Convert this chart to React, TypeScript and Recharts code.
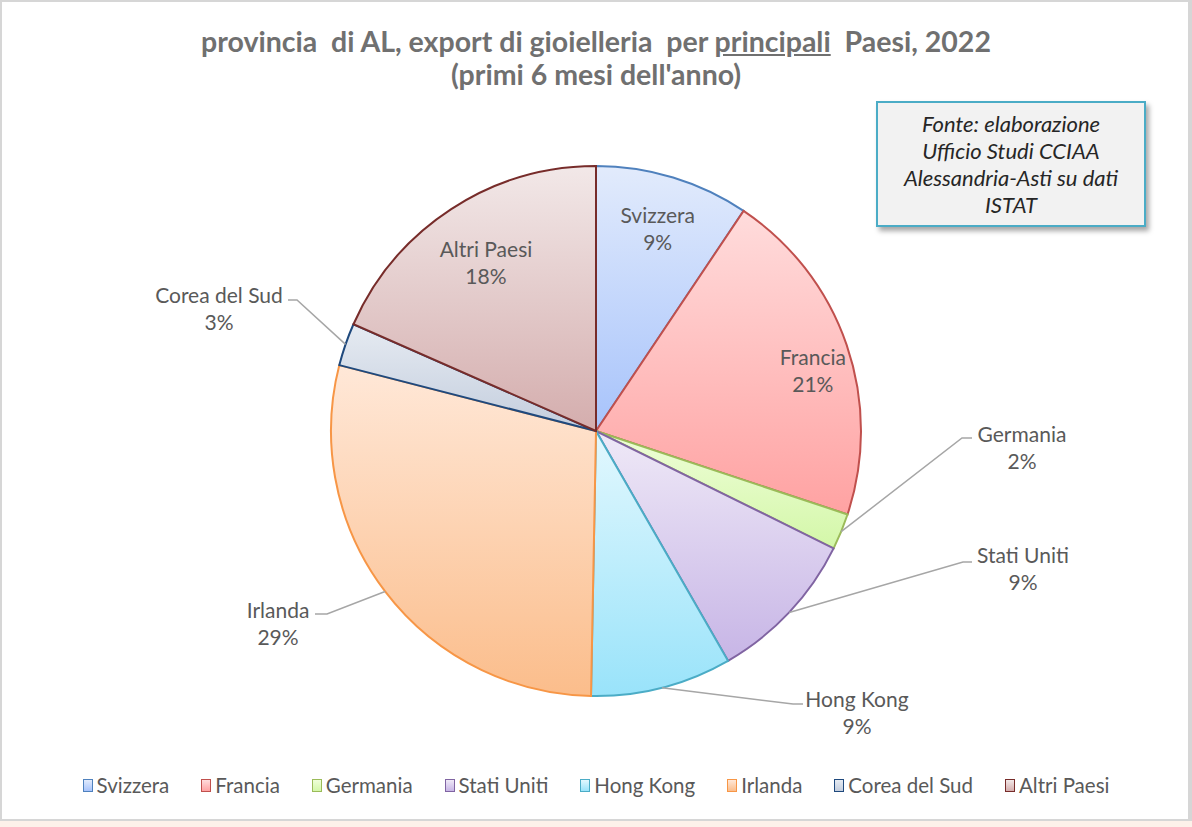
import { Cell, Legend, Pie, PieChart } from 'recharts';

const countries = ['Svizzera', 'Francia', 'Germania', 'Stati Uniti', 'Hong Kong', 'Irlanda', 'Corea del Sud', 'Altri Paesi'];
const shares = [9.4, 20.7, 2.2, 9.4, 8.6, 28.7, 2.6, 18.4];
const strokeColors = ['#4f81bd', '#c0504d', '#9bbb59', '#8064a2', '#4bacc6', '#f79646', '#1f497d', '#772c2a'];
const topColors = ['#e2ebfc', '#ffdcdc', '#effed9', '#efe9f7', '#e3f8fe', '#ffe8d8', '#e6ebf2', '#f2e8e8'];
const bottomColors = ['#a7c3fb', '#ffa2a2', '#d3f7a8', '#c7b5e6', '#99e3fa', '#fbbd8b', '#c3cddd', '#d4adad'];

// label placement, relative to the pie centre
type Spot =
  | { inside: true; r: number; angle?: number }
  | { inside: false; elbow: [number, number]; end: [number, number]; text: [number, number] };

const labelSpots: Spot[] = [
  { inside: true, r: 0.8 },
  { inside: true, r: 0.85, angle: 15.7 },
  { inside: false, elbow: [366, 7], end: [376, 7], text: [426, 15.5] },
  { inside: false, elbow: [367, 131], end: [376, 131], text: [427, 137] },
  { inside: false, elbow: [197, 273], end: [207, 273], text: [261, 280.5] },
  { inside: false, elbow: [-269, 183], end: [-281, 183], text: [-318, 191.5] },
  { inside: false, elbow: [-299, -131], end: [-308, -131], text: [-377, -123] },
  { inside: true, r: 0.76 }
];

const data = countries.map((name, i) => ({ name, value: shares[i] }));
const RADIAN = Math.PI / 180;
const FONT = 'Lato, "Open Sans", sans-serif';

function renderLabel(props: any) {
  const { cx, cy, midAngle, outerRadius, percent, index, name } = props;
  const spot = labelSpots[index];
  const pct = `${Math.round(percent * 100)}%`;
  let tx: number;
  let ty: number;
  let line = null;
  if (spot.inside) {
    const a = (spot.angle ?? midAngle) * RADIAN;
    tx = cx + outerRadius * spot.r * Math.cos(a);
    ty = cy - outerRadius * spot.r * Math.sin(a);
  } else {
    const sx = cx + outerRadius * Math.cos(midAngle * RADIAN);
    const sy = cy - outerRadius * Math.sin(midAngle * RADIAN);
    tx = cx + spot.text[0];
    ty = cy + spot.text[1];
    line = (
      <polyline
        points={`${sx},${sy} ${cx + spot.elbow[0]},${cy + spot.elbow[1]} ${cx + spot.end[0]},${cy + spot.end[1]}`}
        fill="none"
        stroke="#a6a6a6"
        strokeWidth={1.5}
      />
    );
  }
  return (
    <g key={`lbl-${index}`}>
      {line}
      <text x={tx} y={ty - 13.5} textAnchor="middle" dominantBaseline="central" fill="#595959" fontSize={21} fontFamily={FONT}>
        {name}
      </text>
      <text x={tx} y={ty + 13.5} textAnchor="middle" dominantBaseline="central" fill="#595959" fontSize={21} fontFamily={FONT}>
        {pct}
      </text>
    </g>
  );
}

function renderLegend() {
  return (
    <div style={{ display: 'flex', justifyContent: 'center', gap: 32, fontFamily: FONT, fontSize: 20.5, color: '#595959' }}>
      {countries.map((name, i) => (
        <div key={name} style={{ display: 'flex', alignItems: 'center' }}>
          <span
            style={{
              display: 'inline-block',
              width: 8,
              height: 11,
              border: `1.5px solid ${strokeColors[i]}`,
              background: `linear-gradient(${topColors[i]}, ${bottomColors[i]})`,
              marginRight: 4
            }}
          />
          <span>{name}</span>
        </div>
      ))}
    </div>
  );
}

export default function App() {
  return (
    <div style={{ position: 'fixed', left: 0, top: 0, width: 1192, height: 827, background: '#fdf1ea' }}>
      <div
        style={{
          position: 'absolute',
          left: 0,
          top: 0,
          width: 1186,
          height: 817,
          background: '#ffffff',
          borderTop: '2px solid #d6d6d6',
          borderLeft: '2px solid #d6d6d6',
          borderRight: '4px solid #d6d6d6',
          borderBottom: '2px solid #d6d6d6'
        }}
      />
      <div
        style={{
          position: 'absolute',
          left: 0,
          top: 25,
          width: 1192,
          textAlign: 'center',
          fontFamily: FONT,
          fontWeight: 'bold',
          fontSize: 28.5,
          lineHeight: '33px',
          color: '#707070',
          whiteSpace: 'pre'
        }}
      >
        {'provincia  di AL, export di gioielleria  per '}
        <span style={{ textDecoration: 'underline' }}>principali</span>
        {'  Paesi, 2022'}
        <br />
        {'(primi 6 mesi dell\'anno)'}
      </div>
      <div style={{ position: 'absolute', left: 0, top: 0 }}>
        <PieChart width={1192} height={827} margin={{ top: 0, right: 0, bottom: 0, left: 0 }}>
          <defs>
            {countries.map((name, i) => (
              <linearGradient key={name} id={`grad-${i}`} x1="0" y1="0" x2="0" y2="1">
                <stop offset="0%" stopColor={topColors[i]} />
                <stop offset="100%" stopColor={bottomColors[i]} />
              </linearGradient>
            ))}
          </defs>
          <Pie
            data={data}
            dataKey="value"
            nameKey="name"
            cx={596}
            cy={431}
            outerRadius={265}
            startAngle={90}
            endAngle={-270}
            label={renderLabel}
            labelLine={false}
            isAnimationActive={false}
          >
            {data.map((entry, i) => (
              <Cell key={entry.name} fill={`url(#grad-${i})`} stroke={strokeColors[i]} strokeWidth={2} />
            ))}
          </Pie>
          <Legend content={renderLegend} wrapperStyle={{ left: 0, top: 773, width: 1192 }} />
        </PieChart>
      </div>
      <div
        style={{
          position: 'absolute',
          left: 876,
          top: 101,
          width: 266,
          height: 122,
          border: '2px solid #4bacc6',
          background: '#f2f2f2',
          boxShadow: '3px 4px 5px rgba(0,0,0,0.35)',
          fontFamily: FONT,
          fontStyle: 'italic',
          fontSize: 22,
          lineHeight: '27px',
          color: '#262626',
          textAlign: 'center',
          display: 'flex',
          flexDirection: 'column',
          justifyContent: 'center'
        }}
      >
        <div>Fonte: elaborazione</div>
        <div>Ufficio Studi CCIAA</div>
        <div>Alessandria-Asti su dati</div>
        <div>ISTAT</div>
      </div>
    </div>
  );
}
